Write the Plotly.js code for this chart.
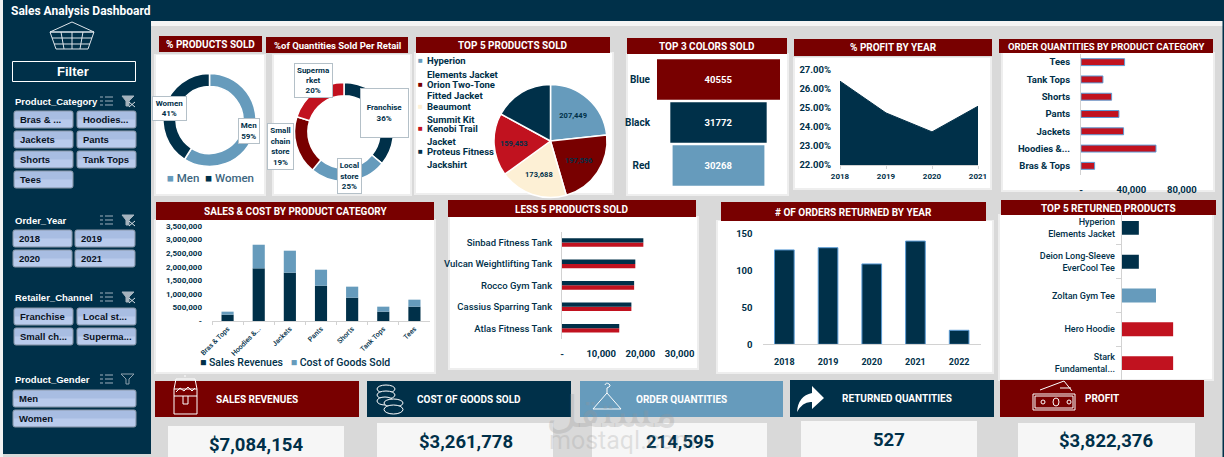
<!DOCTYPE html>
<html><head><meta charset="utf-8">
<script src="https://cdn.plot.ly/plotly-3.0.1.min.js"></script>
<style>html,body{margin:0;padding:0;background:#d9d9d9;overflow:hidden}</style>
</head><body><div id="chart" style="width:1224px;height:457px"></div>
<script>
// ---------- data ----------
const genderLabels = ['Men','Women'];
const genderShare = [59,41];
const retailLabels = ['Franchise','Local store','Small chain store','Supermarket'];
const retailShare = [36,25,19,20];
const topProducts = ['Hyperion Elements Jacket','Orion Two-Tone Fitted Jacket','Beaumont Summit Kit','Kenobi Trail Jacket','Proteus Fitness Jackshirt'];
const topProductValues = [207449,197596,173688,159453,152000];
const colorNames = ['Blue','Black','Red'];
const colorValues = [40555,31772,30268];
const profitYears = ['2018','2019','2020','2021'];
const profitPct = [26.38,24.72,23.73,25.07];
const qtyCategories = ['Bras & Tops','Hoodies &...','Jackets','Pants','Shorts','Tank Tops','Tees'];
const qtyValues = [10800,59500,33800,30100,24300,17400,34600];
const salesCategories = ['Bras & Tops','Hoodies &...','Jackets','Pants','Shorts','Tank Tops','Tees'];
const salesRevenue = [233000,1940000,1780000,1300000,860000,344000,528000];
const goodsCost = [111000,870000,810000,590000,405000,184000,258000];
const lessProducts = ['Atlas Fitness Tank','Cassius Sparring Tank','Rocco Gym Tank','Vulcan Weightlifting Tank','Sinbad Fitness Tank'];
const lessValues = [14600,17700,18400,18700,20750];
const returnYears = ['2018','2019','2020','2021','2022'];
const returnOrders = [128,131,109,140,19];
const returnProducts = ['Stark<br>Fundamental...','Hero Hoodie','Zoltan Gym Tee','Deion Long-Sleeve<br>EverCool Tee','Hyperion<br>Elements Jacket'];
const returnValues = [9,9,6,3,3];
const kpiNames = ['SALES REVENUES','COST OF GOODS SOLD','ORDER QUANTITIES','RETURNED QUANTITIES','PROFIT'];
const kpiValues = ['$7,084,154','$3,261,778','214,595','527','$3,822,376'];
const categorySlicer = ['Bras & ...','Hoodies...','Jackets','Pants','Shorts','Tank Tops','Tees'];
const yearSlicer = ['2018','2019','2020','2021'];
const channelSlicer = ['Franchise','Local st...','Small ch...','Superma...'];
const genderSlicer = ['Men','Women'];

// ---------- palette & helpers ----------
const W=1224,H=457;
const NAVY='#003049',MAROON='#780000',RED='#C1121F',CREAM='#FDF0D5',BLUE='#669BBC',GRAY='#d9d9d9',EDGE='#5b9bd5';
const FONT='Roboto, sans-serif', SLICER='"Liberation Sans", sans-serif';
const X=p=>p/W, Y=p=>1-p/H;
const shapes=[],annotations=[];
function rect(x0,y0,x1,y1,fill,line,lw){shapes.push({type:'rect',xref:'paper',yref:'paper',x0:X(x0),x1:X(x1),y0:Y(y0),y1:Y(y1),fillcolor:fill,line:{color:line||fill,width:line?(lw||1):0},layer:'below'});}
function path(d,stroke,fill,lw){
  let i=0;
  const conv=d.replace(/-?\d+(\.\d+)?/g,m=>{const v=parseFloat(m);const r=(i%2===0)?X(v):Y(v);i++;return r.toFixed(6);});
  shapes.push({type:'path',xref:'paper',yref:'paper',path:conv,fillcolor:fill||'rgba(0,0,0,0)',line:{color:stroke||'rgba(0,0,0,0)',width:stroke?(lw||1):0},layer:'below'});
}
function ell(x0,y0,x1,y1,stroke,fill,lw){shapes.push({type:'circle',xref:'paper',yref:'paper',x0:X(x0),x1:X(x1),y0:Y(y0),y1:Y(y1),fillcolor:fill||'rgba(0,0,0,0)',line:{color:stroke,width:lw||1},layer:'below'});}
function T(text,x,y,o={}){annotations.push(Object.assign({text,xref:'paper',yref:'paper',x:X(x),y:Y(y),xanchor:o.anchor||'center',yanchor:'middle',showarrow:false,
  font:{family:o.family||FONT,size:o.size||10,color:o.color||NAVY,weight:o.weight||700},align:o.align||'center'},o.box||{}));}
function dom(a,b){return [a/W,b/W];}
function domY(top,bot){return [1-bot/H,1-top/H];}
const tickFont=(s,w)=>({family:FONT,size:s,color:NAVY,weight:w||700});

// ---------- frame ----------
rect(0,0,3,457,'#f2f2f2');
rect(3,0,1224,21,NAVY);
rect(151,21,1224,26,'#f4f4f4');
rect(1222.5,21,1224,457,NAVY);
rect(3,21,151,454,NAVY);
T('Sales Analysis Dashboard',8.5,11,{anchor:'left',size:12,color:'#fff'});

// white chart panels
[[156,55,264,194],[274,55,410,194],[416,53,612,193],[628,54,787,194],[795,58,990,188],[1003,53,1213,190],
 [156,220,434,372],[450,217,697,368],[718,221,992,372],[1000,215,1212,379]].forEach(p=>{
  rect(p[0]-2,p[1]-1,p[2]+2,p[3]+2,'#eeeeee');
  rect(p[0],p[1],p[2],p[3],'#ffffff');
});
// title bars
[['% PRODUCTS SOLD',159,36,262,52,10],['%of Quantities Sold Per Retail',266,37,408,53,9.5],['TOP 5 PRODUCTS SOLD',416,37,610,53,10],
 ['TOP 3 COLORS SOLD',627,38,787,54,10],['% PROFIT BY YEAR',794,39,992,56,10],['ORDER QUANTITIES BY PRODUCT CATEGORY',999,39,1213,53,9.5],
 ['SALES & COST BY PRODUCT CATEGORY',156,202,434,220,10],['LESS 5 PRODUCTS SOLD',448,200,696,217,10],
 ['# OF ORDERS RETURNED BY YEAR',721,202,986,221,10],['TOP 5 RETURNED PRODUCTS',1001,200,1216,215,10]].forEach(t=>{
  rect(t[1],t[2],t[3],t[4],MAROON);
  T(t[0],(t[1]+t[3])/2,(t[2]+t[4])/2+0.5,{size:t[5],color:'#fff'});
});
// KPI cards
const kpiBars=[[155,381,359,417,MAROON],[367,381,571,417,NAVY],[580,381,783,417,BLUE],[790,380,994,417,NAVY],[1000,380,1204,417,MAROON]];
const kpiCards=[[168,426,344,457],[377,423,553,457],[592,423,767,457],[801,421,977,457],[1018,423,1195,457]];
const kpiNameX=[[257,399],[469,399],[681,399],[897,398],[1102,398]];
const kpiValueX=[[256,445],[465.5,441.5],[680,442],[889,440],[1106,441]];
kpiNames.forEach((n,i)=>{
  const b=kpiBars[i],c=kpiCards[i];
  rect(b[0],b[1],b[2],b[3],b[4]);
  rect(c[0],c[1],c[2],c[3],'#f6f6f6');
  T(n,kpiNameX[i][0],kpiNameX[i][1],{size:10,color:'#fff'});
  T(kpiValues[i],kpiValueX[i][0],kpiValueX[i][1],{size:18.5});
});

// ---------- sidebar ----------
const ICON='#dde4ea';
path('M50 32 L72 22 L94 32 Z',ICON);
path('M50 32 L94 32 L88 49 L56 49 Z M52 38 L92 38 M54 44 L90 44 M61 32 L64 49 M72 32 L72 49 M83 32 L80 49',ICON);
rect(12.5,61.5,135.5,81.5,'rgba(0,0,0,0)','#ffffff',1);
T('Filter',73,71.5,{size:13,color:'#fff',family:SLICER});
function btn(x0,y0,x1,y1,text){
  const r=2;
  const d=`M${x0+r} ${y0} L${x1-r} ${y0} Q${x1} ${y0} ${x1} ${y0+r} L${x1} ${y1-r} Q${x1} ${y1} ${x1-r} ${y1} L${x0+r} ${y1} Q${x0} ${y1} ${x0} ${y1-r} L${x0} ${y0+r} Q${x0} ${y0} ${x0+r} ${y0} Z`;
  path(d,'#8c99aa','#a8bde2',1);
  rect(x0+1,(y0+y1)/2,x1-1,y1-1,'#b9cbec');
  T(text,x0+4,(y0+y1)/2,{anchor:'left',size:9.5,color:'#08121f',family:SLICER});
}
function slicerHead(text,y,open){
  T(text,12.5,y,{anchor:'left',size:9.5,color:'#fff',family:SLICER});
  path(`M100 ${y-4} L103 ${y-4} M105 ${y-4} L113 ${y-4} M100 ${y} L103 ${y} M105 ${y} L113 ${y} M100 ${y+4} L103 ${y+4} M105 ${y+4} L113 ${y+4}`,'#9fb0bd');
  if(open){ path(`M121 ${y-5} L134 ${y-5} L129 ${y} L129 ${y+5} L126 ${y+5} L126 ${y} Z`,'#8fa1ae'); }
  else { path(`M122 ${y-5} L134 ${y-5} L129 ${y} L129 ${y+5} L126 ${y+5} L126 ${y} Z`,'#a5b3be','#a5b3be');
         path(`M129 ${y+1} L135 ${y+6} M135 ${y+1} L129 ${y+6}`,'#dbe2e8'); }
}
const colA=[14,73],colB=[77,136];
slicerHead('Product_Category',101);
categorySlicer.forEach((t,i)=>{const c=i%2?colB:colA,y=111+20*Math.floor(i/2);btn(c[0],y,c[1],y+17,t);});
slicerHead('Order_Year',220);
yearSlicer.forEach((t,i)=>{const c=i%2?[75,135]:[13,72],y=230+20*Math.floor(i/2);btn(c[0],y,c[1],y+17,t);});
slicerHead('Retailer_Channel',297);
channelSlicer.forEach((t,i)=>{const c=i%2?colB:colA,y=308+20*Math.floor(i/2);btn(c[0],y,c[1],y+17,t);});
slicerHead('Product_Gender',379,true);
genderSlicer.forEach((t,i)=>{const y=390+20*i;btn(13,y,136,y+17,t);});

// ---------- KPI icons ----------
path('M174 389 L197 389 L197 414 L174 414 Z M174 396 L197 396 M176 379 L195 379 L197 389 M176 379 L174 389 M183 396 L183 404 L188 404 L188 396 M176 392 L180 388 L184 391 L188 387 L192 391 L195 388 M185 377 L185 375','#fff');
[[377,385,395,393],[377,391,395,399],[377,397,393,405],[384,399,403,407],[384,405,403,414]].forEach(e=>ell(e[0],e[1],e[2],e[3],'#fff',NAVY));
path('M607 393 L593 409 L621 409 Z M607 393 L607 388 Q612 386 609 384 Q606 382 605 385','#fff');
path('M797 412 Q798 396 812 393 L812 386 L824 398 L812 409 L812 402 Q803 401 797 412 Z',null,'#fff');
path('M1033 394 L1075 394 L1075 410 L1033 410 Z M1035 396 L1073 396 L1073 408 L1035 408 Z M1040 390 L1064 381 L1072 391 M1060 388 L1071 388','#fff');
ell(1053,398,1059,406,'#fff');ell(1041,400,1045,404,'#fff');ell(1067,400,1071,404,'#fff');

// ---------- chart text & legends ----------
function swatch(c){return `<span style="color:${c}">■</span>`;}
T(`${swatch(BLUE)} Men  ${swatch(NAVY)} Women`,210,178,{size:11.5,color:'#3d6680',weight:500});
[['Hyperion',61,BLUE],['Elements Jacket',74],['Orion Two-Tone',84,MAROON],['Fitted Jacket',96],['Beaumont',106,CREAM],['Summit Kit',119],
 ['Kenobi Trail',129,RED],['Jacket',141],['Proteus Fitness',151,NAVY],['Jackshirt',164]].forEach(l=>{
  T(l[0],425,l[1],{anchor:'left',size:9.5});
  if(l[2]) T(swatch(l[2]),425,l[1],{anchor:'right',size:8});
});
T(`${swatch(NAVY)} Sales Revenues   ${swatch(BLUE)} Cost of Goods Sold`,295,362,{size:10.5,weight:500});
function lab(t,x0,y0,x1,y1){
  T(t,(x0+x1)/2,(y0+y1)/2,{size:8,box:{width:x1-x0,height:y1-y0,bgcolor:'#fff',bordercolor:'#b4c0c8',borderwidth:1,borderpad:0}});
}
// ---------- watermark ----------
T('مستقل',612,411,{size:44,color:'rgba(150,150,150,0.28)',family:'"DejaVu Sans", sans-serif',weight:400});
T('mostaql.com',622,440,{size:25,color:'rgba(150,150,150,0.25)',weight:400});

// ---------- traces ----------
const pieBase={type:'pie',sort:false,direction:'clockwise',rotation:0,hoverinfo:'skip'};
const sq=(cx,cy,r)=>({x:dom(cx-r,cx+r),y:domY(cy-r,cy+r)});
const traces=[
 Object.assign({},pieBase,{labels:genderLabels,values:genderShare,hole:0.72,domain:sq(209.5,120,46.5),textinfo:'none',marker:{colors:[BLUE,NAVY],line:{color:'#fff',width:1.5}}}),
 Object.assign({},pieBase,{labels:retailLabels,values:retailShare,hole:0.73,domain:sq(344,132,49.5),textinfo:'none',marker:{colors:[NAVY,BLUE,MAROON,RED],line:{color:'#fff',width:1.5}}}),
 Object.assign({},pieBase,{labels:topProducts,values:topProductValues,domain:sq(550.5,141,56.5),textinfo:'text',
   text:topProductValues.map((v,i)=>i<4?v.toLocaleString('en-US'):''),textposition:'inside',insidetextorientation:'horizontal',
   textfont:{family:FONT,size:7.5,color:NAVY,weight:700},marker:{colors:[BLUE,MAROON,CREAM,RED,NAVY],line:{color:'#fff',width:1.5}}}),
 {type:'funnel',orientation:'h',y:colorNames,x:colorValues,xaxis:'x',yaxis:'y',text:colorValues.map(String),textinfo:'text',textposition:'inside',insidetextanchor:'middle',
   textfont:{family:FONT,size:9.5,color:'#fff',weight:700},marker:{color:[MAROON,NAVY,BLUE]},connector:{visible:false},hoverinfo:'skip',constraintext:'none'},
 {type:'scatter',mode:'lines',x:profitYears,y:profitPct,xaxis:'x2',yaxis:'y2',fill:'tozeroy',fillcolor:NAVY,line:{color:NAVY,width:1},hoverinfo:'skip'},
 {type:'bar',orientation:'h',y:qtyCategories,x:qtyValues,xaxis:'x3',yaxis:'y3',width:0.4,offset:-0.2,marker:{color:RED,line:{color:EDGE,width:1}},hoverinfo:'skip'},
 {type:'bar',x:salesCategories,y:salesRevenue,xaxis:'x4',yaxis:'y4',width:0.39,offset:-0.195,marker:{color:NAVY},hoverinfo:'skip'},
 {type:'bar',x:salesCategories,y:goodsCost,base:salesRevenue,xaxis:'x4',yaxis:'y4',width:0.39,offset:-0.195,marker:{color:BLUE},hoverinfo:'skip'},
 {type:'bar',orientation:'h',y:lessProducts,x:lessValues,xaxis:'x5',yaxis:'y5',width:0.2,offset:-0.2,marker:{color:RED},hoverinfo:'skip'},
 {type:'bar',orientation:'h',y:lessProducts,x:lessValues,xaxis:'x5',yaxis:'y5',width:0.2,offset:0,marker:{color:NAVY},hoverinfo:'skip'},
 {type:'bar',x:returnYears,y:returnOrders,xaxis:'x6',yaxis:'y6',width:0.45,offset:-0.225,marker:{color:NAVY,line:{color:EDGE,width:1}},hoverinfo:'skip'},
 {type:'bar',orientation:'h',y:returnProducts,x:returnValues,xaxis:'x7',yaxis:'y7',width:0.41,offset:-0.205,marker:{color:[RED,RED,BLUE,NAVY,NAVY]},hoverinfo:'skip'}
];

const AXIS='#d2d2d2';
const base={showgrid:false,zeroline:false,fixedrange:true,automargin:false};
const layout={
 width:W,height:H,margin:{l:0,r:0,t:0,b:0,pad:0},paper_bgcolor:GRAY,plot_bgcolor:'rgba(0,0,0,0)',showlegend:false,
 barmode:'overlay',funnelgap:0.06,funnelmode:'group',shapes,annotations,
 // funnel
 xaxis:{...base,domain:dom(657,780),range:[-20277.5,20277.5],visible:false},
 yaxis:{...base,domain:domY(58,187),type:'category',categoryorder:'array',categoryarray:colorNames,range:[2.5,-0.5],showline:false,ticks:'',tickfont:tickFont(10),ticklabelstandoff:6},
 // profit area
 xaxis2:{...base,domain:dom(840,978),type:'category',range:[0,3],showline:true,linecolor:AXIS,ticks:'outside',ticklen:3,tickcolor:AXIS,tickfont:tickFont(8),anchor:'y2'},
 yaxis2:{...base,domain:domY(69.3,165),range:[22,27],tickvals:[22,23,24,25,26,27],ticktext:['22.00%','23.00%','24.00%','25.00%','26.00%','27.00%'],tickfont:tickFont(9.5),ticks:'',ticklabelstandoff:8,anchor:'x2'},
 // order quantities
 xaxis3:{...base,domain:dom(1081,1205),range:[0,98400],tickvals:[0,40000,80000],ticktext:['-','40,000','80,000'],tickfont:tickFont(9.5),ticks:'',ticklabelstandoff:8,anchor:'y3'},
 yaxis3:{...base,domain:domY(53.5,174.5),type:'category',categoryorder:'array',categoryarray:qtyCategories,range:[-0.5,6.5],showline:true,linecolor:AXIS,ticks:'',tickfont:tickFont(9.5),ticklabelstandoff:8,anchor:'x3'},
 // sales & cost
 xaxis4:{...base,domain:dom(212,430),type:'category',categoryorder:'array',categoryarray:salesCategories,range:[-0.5,6.5],showline:true,linecolor:AXIS,ticks:'outside',ticklen:3,tickcolor:AXIS,tickson:'boundaries',tickangle:-45,tickfont:tickFont(7,500),anchor:'y4'},
 yaxis4:{...base,domain:domY(226,321),range:[0,3500000],tickvals:[0,500000,1000000,1500000,2000000,2500000,3000000,3500000],
   ticktext:['-','500,000','1,000,000','1,500,000','2,000,000','2,500,000','3,000,000','3,500,000'],tickfont:tickFont(8),ticks:'',ticklabelstandoff:9,anchor:'x4'},
 // less 5
 xaxis5:{...base,domain:dom(562,690),range:[0,32650],tickvals:[0,10000,20000,30000],ticktext:['-','10,000','20,000','30,000'],tickfont:tickFont(9.5),ticks:'',ticklabelstandoff:7,anchor:'y5'},
 yaxis5:{...base,domain:domY(231.7,339),type:'category',categoryorder:'array',categoryarray:lessProducts,range:[-0.5,4.5],showline:true,linecolor:AXIS,ticks:'',tickfont:tickFont(9.5,500),ticklabelstandoff:7,anchor:'x5'},
 // returned by year
 xaxis6:{...base,domain:dom(762.5,981),type:'category',categoryorder:'array',categoryarray:returnYears,range:[-0.5,4.5],showline:true,linecolor:AXIS,ticks:'',tickfont:tickFont(9),ticklabelstandoff:9,anchor:'y6'},
 yaxis6:{...base,domain:domY(233.7,344.3),range:[0,150],tickvals:[0,50,100,150],tickfont:tickFont(9.5),ticks:'',ticklabelstandoff:9,anchor:'x6'},
 // top returned
 xaxis7:{...base,domain:dom(1121.7,1200),range:[0,13.7],visible:false,anchor:'y7'},
 yaxis7:{...base,domain:domY(211,380),type:'category',categoryorder:'array',categoryarray:returnProducts,range:[-0.5,4.5],showline:true,linecolor:AXIS,ticks:'outside',ticklen:5,tickcolor:AXIS,tickson:'boundaries',tickfont:tickFont(9,500),ticklabelstandoff:4,anchor:'x7'}
};
lab('Women<br>41%',153,97,186,120);
lab('Men<br>59%',239,119,259,143);
lab('Franchise<br>36%',361,89,408,137);
lab('Local<br>store<br>25%',338,159,361,193);
lab('Small<br>chain<br>store<br>19%',268,124,293,169);
lab('Superma<br>rket<br>20%',295,64,332,97);
Plotly.newPlot('chart',traces,layout,{displayModeBar:false,staticPlot:true});
</script></body></html>
